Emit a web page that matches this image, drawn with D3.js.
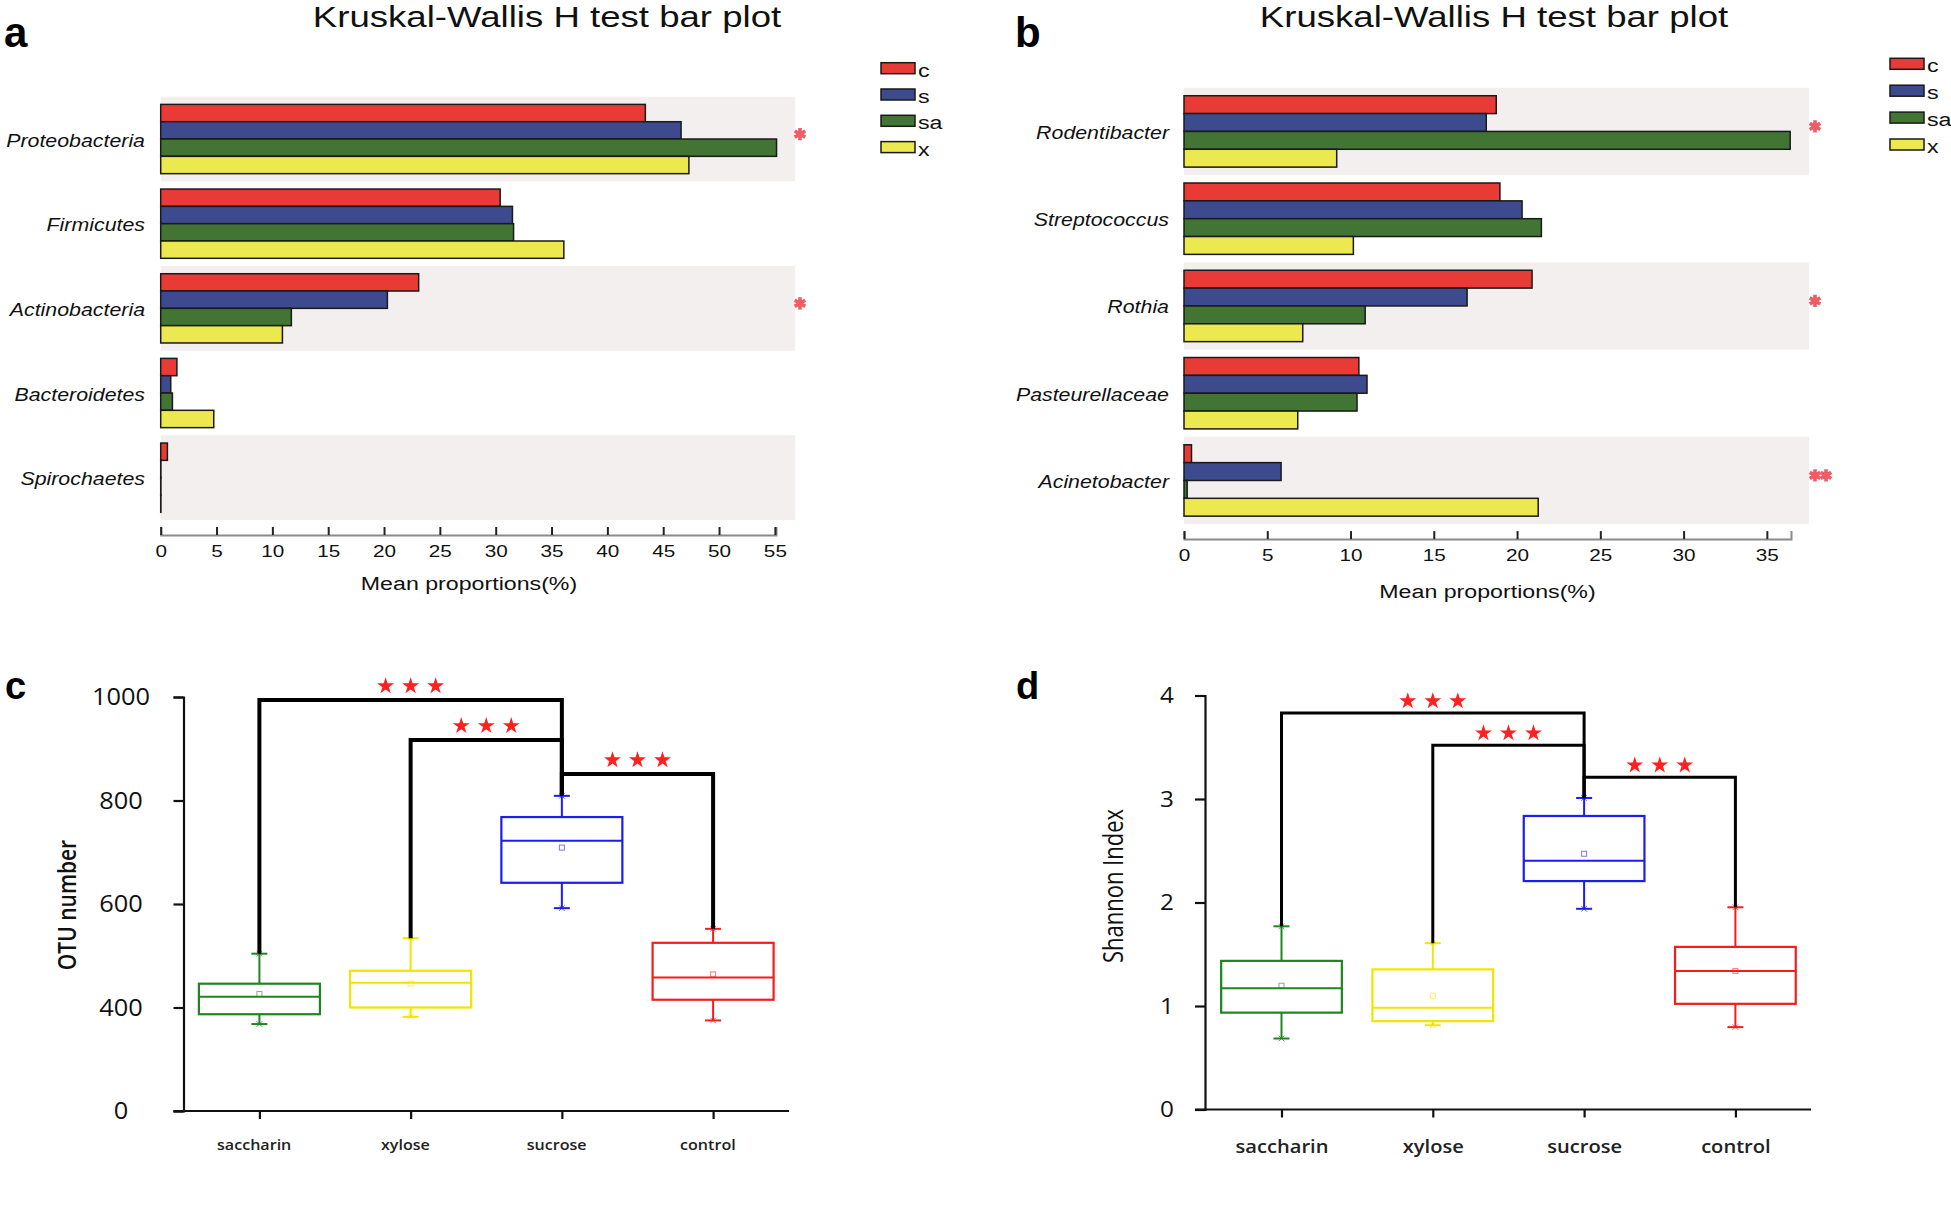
<!DOCTYPE html>
<html>
<head>
<meta charset="utf-8">
<script src="https://cdn.jsdelivr.net/npm/d3@7"></script>
<style>
  body { margin: 0; background: #fff; }
  svg { display: block; }
</style>
</head>
<body>
<script>
// ---------- data ----------
const groups = ["c", "s", "sa", "x"];
const barColors = ["#e83b36", "#3d4b8e", "#427433", "#ece84f"];

const phyla = ["Proteobacteria", "Firmicutes", "Actinobacteria", "Bacteroidetes", "Spirochaetes"];
// mean proportions (%) per group c, s, sa, x
const phylaValues = [
  [43.4, 46.6, 55.15, 47.3],
  [30.4, 31.5, 31.6, 36.1],
  [23.1, 20.3, 11.7, 10.9],
  [1.45, 0.9, 1.05, 4.75],
  [0.6, 0.02, 0.02, 0.02]
];
const phylaSig = ["*", "", "*", "", ""];
const phylaTicks = [0, 5, 10, 15, 20, 25, 30, 35, 40, 45, 50, 55];

const genera = ["Rodentibacter", "Streptococcus", "Rothia", "Pasteurellaceae", "Acinetobacter"];
const generaValues = [
  [18.75, 18.15, 36.4, 9.17],
  [18.97, 20.3, 21.46, 10.17],
  [20.9, 17.0, 10.88, 7.13],
  [10.5, 10.99, 10.39, 6.83],
  [0.45, 5.83, 0.19, 21.27]
];
const generaSig = ["*", "", "*", "", "**"];
const generaTicks = [0, 5, 10, 15, 20, 25, 30, 35];

const treatments = ["saccharin", "xylose", "sucrose", "control"];
const boxColors = ["#1f851f", "#f2e400", "#1c1cf5", "#f51c1c"];
// min, q1, median, q3, max, mean
const otuStats = [
  [368, 387, 421, 446, 504, 426],
  [382, 400, 448, 471, 534, 446],
  [592, 641, 722, 768, 809, 709],
  [375, 415, 458, 525, 552, 464]
];
const otuTicks = [200, 400, 600, 800, 1000];
const otuTickLabels = ["0", "400", "600", "800", "1000"];
const otuBrackets = [["saccharin", "sucrose", 994], ["xylose", "sucrose", 917], ["sucrose", "control", 851]];

const shannonStats = [
  [0.686, 0.936, 1.171, 1.436, 1.77, 1.196],
  [0.814, 0.854, 0.982, 1.354, 1.607, 1.10],
  [1.939, 2.207, 2.404, 2.836, 3.01, 2.471],
  [0.796, 1.021, 1.339, 1.571, 1.954, 1.339]
];
const shannonTicks = [0, 1, 2, 3, 4];
const shannonTickLabels = ["0", "1", "2", "3", "4"];
const shannonBrackets = [["saccharin", "sucrose", 3.83], ["xylose", "sucrose", 3.52], ["sucrose", "control", 3.21]];

// ---------- drawing ----------
const W = 1951, H = 1220;
const ARIAL = "'Liberation Sans', Arial, Helvetica, sans-serif";
const OPEN = "'Open Sans', 'Noto Sans', sans-serif";
const SX = 1.22; // the figure is stretched horizontally

const svg = d3.select("body").append("svg").attr("width", W).attr("height", H);
svg.append("rect").attr("width", W).attr("height", H).attr("fill", "#fff");

function label(parent, x, y, str, o = {}) {
  return parent.append("text")
    .attr("transform", `translate(${x},${y}) scale(${o.sx || 1},1)${o.rot ? ` rotate(${o.rot})` : ""}`)
    .attr("font-family", o.font || ARIAL)
    .attr("font-size", o.size || 16)
    .attr("font-weight", o.weight || 400)
    .attr("font-style", o.style || "normal")
    .attr("text-anchor", o.anchor || "start")
    .attr("dy", o.dy || null)
    .attr("fill", o.fill || "#111")
    .text(str);
}

function barPanel(p) {
  const g = svg.append("g");
  const x = d3.scaleLinear().domain([0, p.max]).range([p.x0, p.x1]);
  const y = d3.scaleBand().domain(p.cats).range([p.y0, p.y1]);
  const yi = d3.scaleBand().domain(groups).range([0, y.bandwidth()]).paddingOuter(0.445);

  g.selectAll(".band").data(p.cats.filter((d, i) => i % 2 === 0)).join("rect")
    .attr("x", p.x0).attr("y", d => y(d))
    .attr("width", p.bandRight - p.x0).attr("height", y.bandwidth())
    .attr("fill", "#f3efee");

  g.selectAll(".cat").data(p.cats).join("g")
    .attr("transform", d => `translate(0,${y(d)})`)
    .selectAll("rect")
    .data((d, i) => p.values[i].map((v, j) => ({ v, k: groups[j] })))
    .join("rect")
      .attr("x", x(0)).attr("y", d => yi(d.k))
      .attr("width", d => x(d.v) - x(0)).attr("height", yi.bandwidth())
      .attr("fill", d => barColors[groups.indexOf(d.k)])
      .attr("stroke", "#1a1a1a").attr("stroke-width", 1.5);

  p.cats.forEach((c, i) => {
    const cy = y(c) + y.bandwidth() / 2;
    label(g, p.labelRight, cy + 7.5, c, { size: 17.5, style: "italic", anchor: "end", sx: SX });
    for (let k = 0; k < p.sig[i].length; k++) {
      g.append("path")
        .attr("d", d3.symbol(d3.symbolAsterisk, 105)())
        .attr("transform", `translate(${p.x1 + 24 + k * 11},${cy - 5})`)
        .attr("fill", "none").attr("stroke", "#ef5c64").attr("stroke-width", 3.6);
    }
  });

  const ax = g.append("g").attr("transform", `translate(0,${p.y1 + 15})`)
    .call(d3.axisBottom(x).tickValues(p.ticks).tickSize(-8).tickPadding(9.7).tickFormat(d3.format("d")));
  ax.select(".domain").attr("stroke", "#8a8a8a").attr("stroke-width", 2);
  ax.selectAll(".tick line").attr("stroke", "#222").attr("stroke-width", 2);
  ax.selectAll(".tick text")
    .attr("font-family", ARIAL).attr("font-size", 17).attr("fill", "#111")
    .attr("transform", `scale(${SX},1)`);

  label(g, p.axisTitleX, p.axisTitleY, "Mean proportions(%)", { size: 19, anchor: "middle", sx: SX });
  label(g, p.titleX, 27, "Kruskal-Wallis H test bar plot", { size: 30, anchor: "middle", sx: SX });
  label(g, p.letterX, 47, p.letter, { size: 42, weight: 700, fill: "#000" });

  groups.forEach((k, i) => {
    const ly = p.legendY + i * p.legendStep;
    g.append("rect").attr("x", p.legendX).attr("y", ly).attr("width", 34).attr("height", 11)
      .attr("fill", barColors[i]).attr("stroke", "#1a1a1a").attr("stroke-width", 1.5);
    label(g, p.legendX + 37, ly + 14, k, { size: 19, sx: SX });
  });
}

function boxPanel(p) {
  const g = svg.append("g");
  const x = d3.scalePoint().domain(treatments).range([p.cx0, p.cx1]);
  const y = d3.scaleLinear().domain(p.domain).range([p.yBottom, p.yTop]);
  const y0 = y(p.domain[0]);

  const ya = g.append("g").attr("transform", `translate(${p.axisX},0)`)
    .call(d3.axisLeft(y).tickValues(p.ticks)
      .tickFormat(d => p.tickLabels[p.ticks.indexOf(d)])
      .tickSize(10).tickPadding(p.tickPad));
  ya.select(".domain").attr("stroke", "#111").attr("stroke-width", 2.2);
  ya.selectAll(".tick line").attr("stroke", "#111").attr("stroke-width", 2.2);
  ya.selectAll(".tick text")
    .attr("font-family", OPEN).attr("font-size", p.tickSize).attr("fill", "#111")
    .attr("text-anchor", "middle")
    .attr("transform", "scale(1.08,1)");

  g.append("line")
    .attr("x1", p.axisX - 10).attr("x2", p.xEnd).attr("y1", y0).attr("y2", y0)
    .attr("stroke", "#111").attr("stroke-width", 2.2);
  const xa = g.append("g").attr("transform", `translate(0,${y0})`)
    .call(d3.axisBottom(x).tickSize(8).tickPadding(p.xPad));
  xa.select(".domain").remove();
  xa.selectAll(".tick line").attr("stroke", "#111").attr("stroke-width", 2.2);
  xa.selectAll(".tick text")
    .attr("font-family", OPEN).attr("font-size", p.xSize).attr("font-weight", 600)
    .attr("fill", "#222").attr("dx", p.xDx)
    .attr("transform", "scale(1.15,1)");

  const boxes = g.selectAll(".box")
    .data(p.stats.map((s, i) => ({ t: treatments[i], c: boxColors[i],
      min: s[0], q1: s[1], med: s[2], q3: s[3], max: s[4], mean: s[5] })))
    .join("g")
    .attr("transform", d => `translate(${x(d.t)},0)`)
    .attr("stroke", d => d.c).attr("fill", "none");

  boxes.append("line").attr("y1", d => y(d.q3)).attr("y2", d => y(d.max)).attr("stroke-width", 2);
  boxes.append("line").attr("y1", d => y(d.q1)).attr("y2", d => y(d.min)).attr("stroke-width", 2);
  ["max", "min"].forEach(k => {
    boxes.append("line").attr("x1", -8).attr("x2", 8)
      .attr("y1", d => y(d[k])).attr("y2", d => y(d[k])).attr("stroke-width", 2);
    boxes.append("path").attr("d", d3.symbol(d3.symbolTimes, 22)())
      .attr("transform", d => `translate(0,${y(d[k])})`).attr("stroke-width", 1).attr("opacity", 0.7);
  });
  boxes.append("rect")
    .attr("x", -p.boxW / 2).attr("width", p.boxW)
    .attr("y", d => y(d.q3)).attr("height", d => y(d.q1) - y(d.q3))
    .attr("stroke-width", 2.2);
  boxes.append("line").attr("x1", -p.boxW / 2).attr("x2", p.boxW / 2)
    .attr("y1", d => y(d.med)).attr("y2", d => y(d.med)).attr("stroke-width", 2);
  boxes.append("rect").attr("x", -2.5).attr("width", 5).attr("height", 5)
    .attr("y", d => y(d.mean) - 2.5).attr("stroke-width", 1).attr("opacity", 0.6);

  p.brackets.forEach(([a, b, h]) => {
    const ia = treatments.indexOf(a), ib = treatments.indexOf(b);
    const path = d3.path();
    path.moveTo(x(a), y(p.stats[ia][4]));
    path.lineTo(x(a), y(h));
    path.lineTo(x(b), y(h));
    path.lineTo(x(b), y(p.stats[ib][4]));
    g.append("path").attr("d", path.toString())
      .attr("fill", "none").attr("stroke", "#000").attr("stroke-width", p.bracketW);
    const mx = (x(a) + x(b)) / 2;
    [-1, 0, 1].forEach(k => {
      g.append("path").attr("d", d3.symbol(d3.symbolStar, 88)())
        .attr("transform", `translate(${mx + k * 25},${y(h) - p.starGap})`)
        .attr("fill", "#ff2020");
    });
  });

  label(g, p.titleX, p.titleY, p.yTitle,
    { font: OPEN, size: p.yTitleSize, weight: p.yTitleWeight, anchor: "middle", sx: 1.2, rot: -90, dy: "0.35em" });
  label(g, p.letterX, 699, p.letter, { size: 38, weight: 700, fill: "#000" });
}

barPanel({
  cats: phyla, values: phylaValues, sig: phylaSig, ticks: phylaTicks, max: 55.1,
  x0: 160.7, x1: 776, y0: 96.7, y1: 520, bandRight: 795, labelRight: 145,
  axisTitleX: 469, axisTitleY: 590, titleX: 547, letter: "a", letterX: 4,
  legendX: 881, legendY: 62.7, legendStep: 26.3
});

barPanel({
  cats: genera, values: generaValues, sig: generaSig, ticks: generaTicks, max: 36.45,
  x0: 1184, x1: 1791, y0: 87.8, y1: 524.1, bandRight: 1809, labelRight: 1169,
  axisTitleX: 1487.5, axisTitleY: 598, titleX: 1494, letter: "b", letterX: 1015,
  legendX: 1890, legendY: 58.3, legendStep: 26.9
});

boxPanel({
  stats: otuStats, domain: [200, 1000], ticks: otuTicks, tickLabels: otuTickLabels,
  brackets: otuBrackets, cx0: 259.4, cx1: 713.1, yBottom: 1111, yTop: 697,
  axisX: 183.5, xEnd: 789, boxW: 121, tickPad: 47.9, tickSize: 23.5,
  xPad: 21, xSize: 14, xDx: -5, bracketW: 4, starGap: 14,
  yTitle: "OTU number", yTitleSize: 21, yTitleWeight: 600, titleX: 67, titleY: 905,
  letter: "c", letterX: 5
});

boxPanel({
  stats: shannonStats, domain: [0, 4], ticks: shannonTicks, tickLabels: shannonTickLabels,
  brackets: shannonBrackets, cx0: 1281.5, cx1: 1735.4, yBottom: 1109.5, yTop: 695.5,
  axisX: 1205, xEnd: 1811, boxW: 120.7, tickPad: 25.2, tickSize: 22.5,
  xPad: 23, xSize: 17.5, xDx: 0, bracketW: 3, starGap: 12,
  yTitle: "Shannon Index", yTitleSize: 22, yTitleWeight: 400, titleX: 1114, titleY: 886,
  letter: "d", letterX: 1016
});
</script>
</body>
</html>
